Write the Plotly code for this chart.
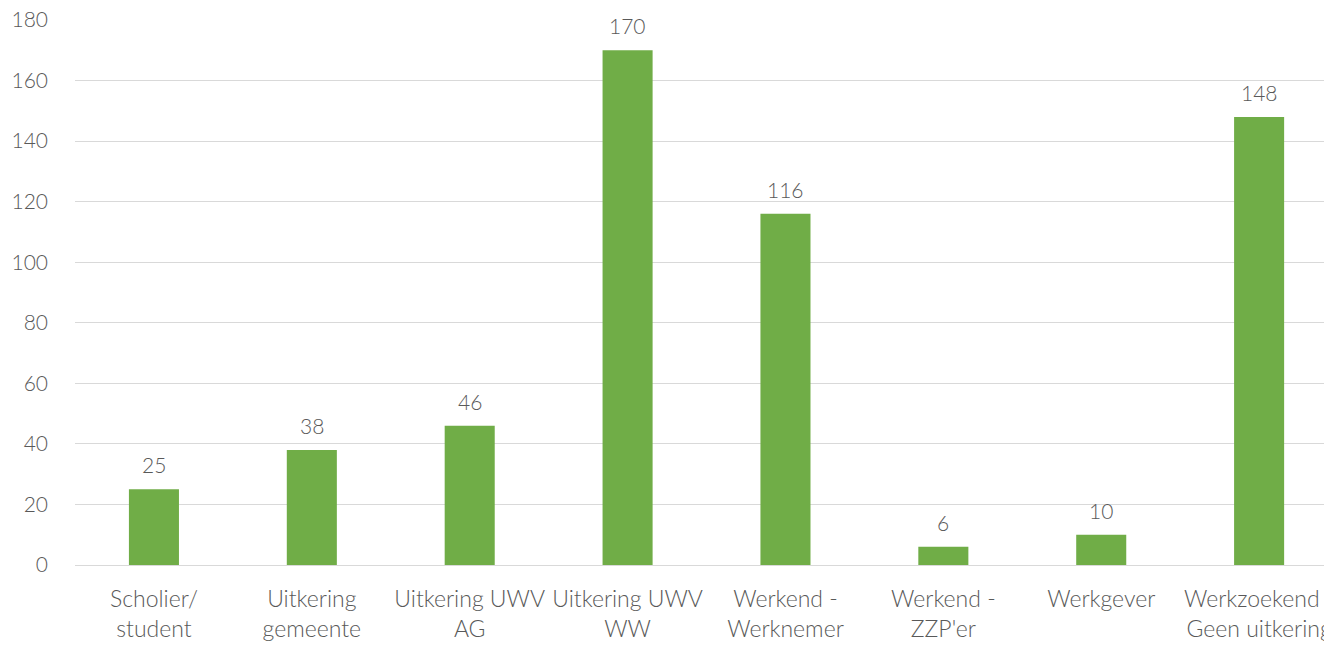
import plotly.graph_objects as go

categories = [
    "Scholier/ student",
    "Uitkering gemeente",
    "Uitkering UWV AG",
    "Uitkering UWV WW",
    "Werkend - Werknemer",
    "Werkend - ZZP'er",
    "Werkgever",
    "Werkzoekend - Geen uitkering",
]
tick_labels = [
    "Scholier/<br>student",
    "Uitkering<br>gemeente",
    "Uitkering UWV<br>AG",
    "Uitkering UWV<br>WW",
    "Werkend -<br>Werknemer",
    "Werkend -<br>ZZP'er",
    "Werkgever",
    "Werkzoekend -<br>Geen uitkering",
]
values = [25, 38, 46, 170, 116, 6, 10, 148]
y_ticks = [0, 20, 40, 60, 80, 100, 120, 140, 160, 180]

FONT = "Lato"
SIZE = 23
NUM_SIZE = 21
TXT = "#595959"
GRID = "#d9d9d9"

fig = go.Figure()
fig.add_trace(go.Bar(
    x=list(range(len(categories))),
    y=values,
    width=0.317,
    marker=dict(color="#70ad47", line=dict(width=0)),
    hovertext=categories,
))

for i, v in enumerate(values):
    fig.add_annotation(
        x=i, y=v, text=str(v), showarrow=False,
        yanchor="bottom", yshift=10,
        font=dict(family=FONT, size=NUM_SIZE, color=TXT, weight=300),
    )

fig.update_layout(
    width=1324, height=645,
    margin=dict(l=75, r=0, t=20, b=80, autoexpand=False),
    paper_bgcolor="white", plot_bgcolor="white",
    showlegend=False,
    font=dict(family=FONT, size=SIZE, color=TXT, weight=300),
    xaxis=dict(
        tickmode="array",
        tickvals=list(range(len(categories))),
        ticktext=tick_labels,
        range=[-0.5, 7.411],
        automargin=False,
        showgrid=False, zeroline=False, showline=False,
        ticks="", ticklabelstandoff=18, ticklabeloverflow="allow",
        tickfont=dict(family=FONT, size=SIZE, color=TXT, weight=300),
    ),
    yaxis=dict(
        range=[0, 180],
        tickvals=y_ticks,
        automargin=False,
        showgrid=True, gridcolor=GRID, gridwidth=1,
        zeroline=True, zerolinecolor=GRID, zerolinewidth=1,
        showline=False, ticks="", ticklabelstandoff=26,
        tickfont=dict(family=FONT, size=NUM_SIZE, color=TXT, weight=300),
    ),
)

fig.write_html(
    "out.html",
    config={"displayModeBar": False},
    post_script="document.body.style.margin='0';",
)
